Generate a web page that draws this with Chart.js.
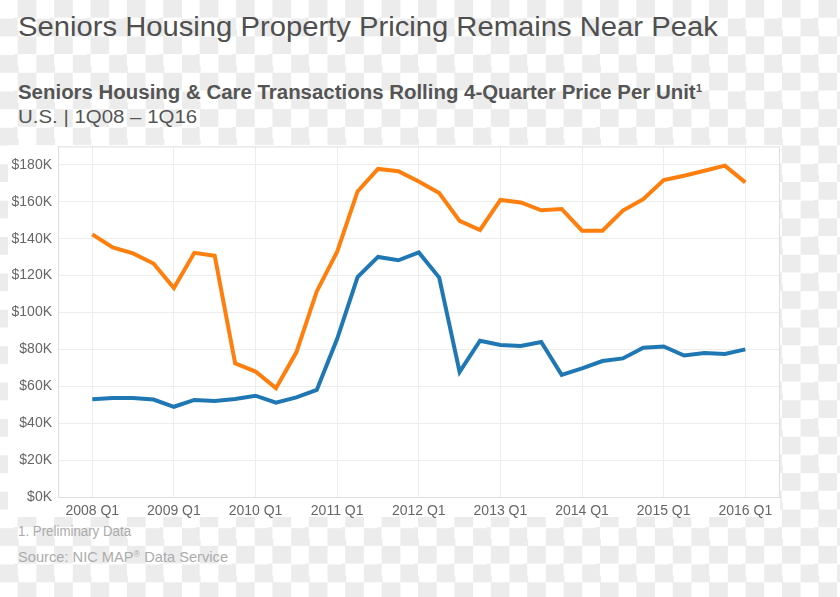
<!DOCTYPE html>
<html>
<head>
<meta charset="utf-8">
<script src="https://cdn.jsdelivr.net/npm/chart.js@4"></script>
<style>
  html, body { margin: 0; padding: 0; }
  body {
    width: 840px; height: 597px; position: relative; overflow: hidden;
    font-family: "Liberation Sans", Arial, sans-serif;
    background-color: #fff;
    background-image: repeating-conic-gradient(#ececec 0 25%, #ffffff 0 50%);
    background-size: 36.4px 36.4px;
  }
  .txt { position: absolute; left: 18px; white-space: nowrap; transform-origin: 0 0; }
  #title { top: 13px; font-size: 28px; line-height: 28px; color: #4f4f4f; }
  #subtitle { top: 83px; font-size: 19.5px; line-height: 19.5px; font-weight: bold; color: #555; }
  #subtitle sup { font-size: 11px; vertical-align: 7px; line-height: 0; }
  #range { top: 108px; font-size: 18.5px; line-height: 18.5px; color: #555; }
  #note { top: 524px; font-size: 14px; line-height: 14px; color: #ababab; }
  #source { top: 549px; font-size: 15px; line-height: 15px; color: #ababab; }
  #source sup { font-size: 9px; vertical-align: 5px; line-height: 0; }
  #panel { position: absolute; left: 8px; top: 145px; width: 772px; height: 372px; background: #fff; }
  #wrap { position: absolute; left: 0; top: 132px; width: 790px; height: 390px; }
</style>
</head>
<body>
<div id="title" class="txt" data-w="700">Seniors Housing Property Pricing Remains Near Peak</div>
<div id="subtitle" class="txt" data-w="684">Seniors Housing &amp; Care Transactions Rolling 4-Quarter Price Per Unit<sup>1</sup></div>
<div id="range" class="txt" data-w="179">U.S. | 1Q08 – 1Q16</div>
<div id="panel"></div>
<div id="wrap"><canvas id="priceChart"></canvas></div>
<div id="note" class="txt" data-w="113">1. Preliminary Data</div>
<div id="source" class="txt" data-w="210">Source: NIC MAP<sup>®</sup> Data Service</div>

<script>
// quarters 2008 Q1 .. 2016 Q1
const quarters = [
  '2008 Q1', '2008 Q2', '2008 Q3', '2008 Q4',
  '2009 Q1', '2009 Q2', '2009 Q3', '2009 Q4',
  '2010 Q1', '2010 Q2', '2010 Q3', '2010 Q4',
  '2011 Q1', '2011 Q2', '2011 Q3', '2011 Q4',
  '2012 Q1', '2012 Q2', '2012 Q3', '2012 Q4',
  '2013 Q1', '2013 Q2', '2013 Q3', '2013 Q4',
  '2014 Q1', '2014 Q2', '2014 Q3', '2014 Q4',
  '2015 Q1', '2015 Q2', '2015 Q3', '2015 Q4',
  '2016 Q1'
];

// price per unit, $K
const orangeSeries = [
  142.3, 135.3, 132.0, 126.5, 113.2, 132.3, 130.7, 72.4,
  68.0, 59.0, 78.4, 111.4, 132.9, 165.6, 177.8, 176.5,
  171.0, 164.7, 149.6, 144.7, 161.0, 159.6, 155.4, 156.1,
  144.3, 144.3, 155.2, 161.4, 171.8, 174.1, 176.8, 179.6,
  170.5
];
const blueSeries = [
  53.0, 53.7, 53.7, 52.8, 48.9, 52.6, 52.0, 53.1,
  54.9, 51.1, 54.0, 58.0, 85.7, 119.2, 130.1, 128.3,
  132.5, 118.9, 67.8, 84.7, 82.4, 81.8, 84.0, 66.2,
  69.7, 73.7, 75.1, 80.9, 81.6, 76.7, 78.0, 77.5,
  80.0
];

const xTickLabels = ['2008 Q1', '2009 Q1', '2010 Q1', '2011 Q1', '2012 Q1', '2013 Q1', '2014 Q1', '2015 Q1', '2016 Q1'];
const yTicks = [0, 20, 40, 60, 80, 100, 120, 140, 160, 180];

// squeeze the heading texts to the widths in the picture
document.querySelectorAll('.txt').forEach(el => {
  const target = parseFloat(el.dataset.w);
  const w = el.scrollWidth;
  if (w > 0) el.style.transform = 'scaleX(' + (target / w) + ')';
});

const toPoints = arr => arr.map((v, i) => ({ x: i, y: v }));

const plotBorder = {
  id: 'plotBorder',
  beforeDatasetsDraw(chart) {
    const a = chart.chartArea;
    const ctx = chart.ctx;
    ctx.save();
    ctx.strokeStyle = '#dedede';
    ctx.lineWidth = 1;
    ctx.strokeRect(a.left + 0.5, a.top + 0.5, a.right - a.left - 1, a.bottom - a.top);
    ctx.restore();
  }
};

const tickFont = { family: '"Liberation Sans", Arial, sans-serif', size: 14 };

new Chart(document.getElementById('priceChart'), {
  type: 'line',
  data: {
    datasets: [{
      label: 'Orange',
      data: toPoints(orangeSeries),
      borderColor: '#ff7f0e',
      borderWidth: 4,
      pointRadius: 0,
      tension: 0
    }, {
      label: 'Blue',
      data: toPoints(blueSeries),
      borderColor: '#1f77b4',
      borderWidth: 4,
      pointRadius: 0,
      tension: 0
    }]
  },
  options: {
    responsive: true,
    maintainAspectRatio: false,
    animation: false,
    layout: { padding: { left: 0, right: 10, top: 5, bottom: 0 } },
    plugins: { legend: { display: false }, tooltip: { enabled: false } },
    scales: {
      x: {
        type: 'linear',
        min: -1.68,
        max: 33.7,
        afterBuildTicks: s => { s.ticks = xTickLabels.map(l => ({ value: quarters.indexOf(l) })); },
        afterFit: s => { s.height = 25; },
        ticks: {
          color: '#666',
          font: tickFont,
          padding: 6,
          maxRotation: 0,
          autoSkip: false,
          callback: v => quarters[v]
        },
        grid: { color: '#ededed', drawTicks: false },
        border: { color: '#dedede' }
      },
      y: {
        min: 0,
        max: 190,
        afterBuildTicks: s => { s.ticks = yTicks.map(v => ({ value: v })); },
        afterFit: s => { s.width = 58; },
        ticks: {
          color: '#666',
          font: tickFont,
          padding: 6,
          callback: v => '$' + v + 'K'
        },
        grid: { color: '#ededed', drawTicks: false },
        border: { color: '#dedede' }
      }
    }
  },
  plugins: [plotBorder]
});
</script>
</body>
</html>
